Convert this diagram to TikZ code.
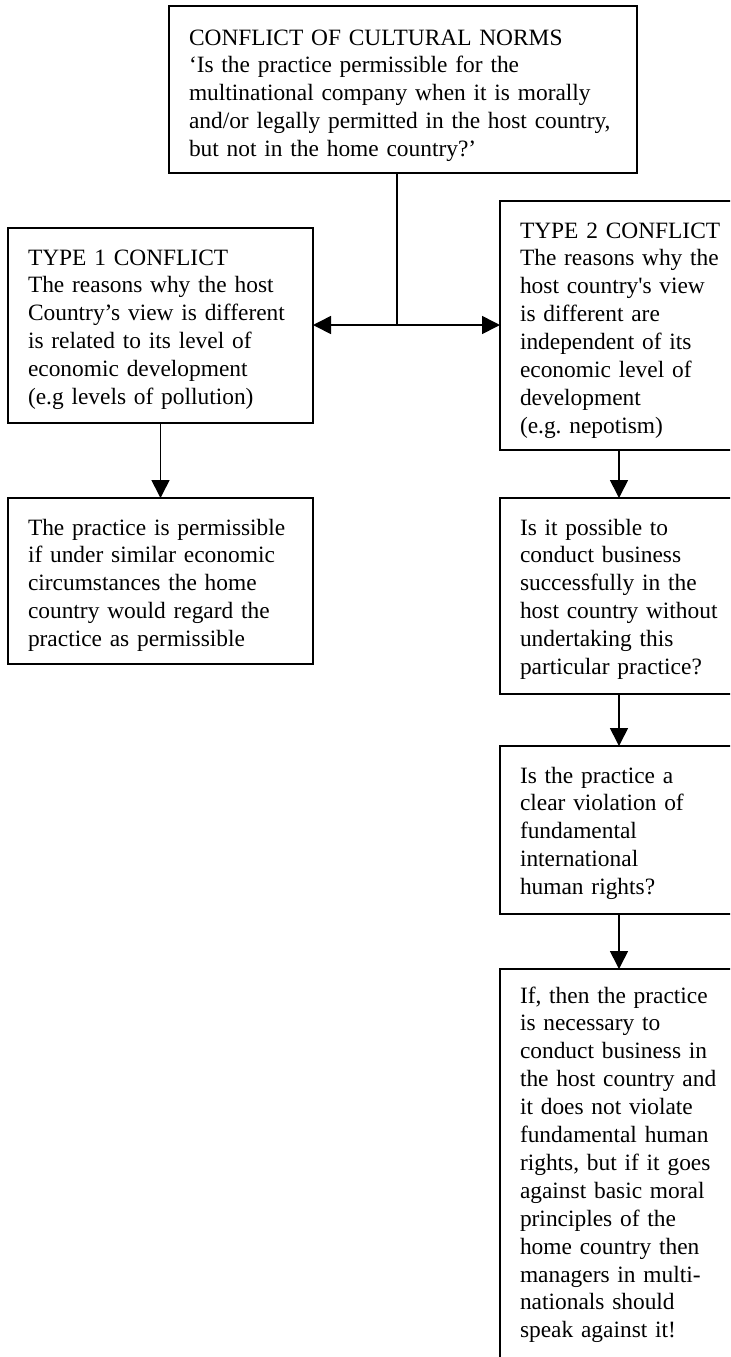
\documentclass[tikz,border=0pt]{standalone}
\usepackage{fontspec}
\setmainfont{Liberation Serif}
\usetikzlibrary{arrows.meta}
\tikzset{
  textbox/.style={draw, line width=1pt, anchor=north west, outer sep=0pt,
    align=left, inner xsep=10pt, inner ysep=0pt, text height=18.5pt,
    font=\fontsize{11.7pt}{13.95pt}\selectfont},
  arr/.style={line width=0.8pt, -{Triangle[length=9pt,width=9pt]}}
}
\begin{document}
\frenchspacing
\begin{tikzpicture}[x=0.5pt, y=-0.5pt]
  \useasboundingbox (0,0) rectangle (730,1357);
  \clip (0,0) rectangle (730,1357);
  % top box
  \node[textbox, text width=214pt, text height=19.5pt, text depth=64pt] (norms) at (169,6)
    {CONFLICT OF CULTURAL NORMS\\
     ‘Is the practice permissible for the\\
     multinational company when it is morally\\
     and/or legally permitted in the host country,\\
     but not in the home country?’};
  % left column
  \node[textbox, text width=132.5pt, text depth=79pt] (typeone) at (8,228)
    {TYPE 1 CONFLICT\\
     The reasons why the host\\
     Country’s view is different\\
     is related to its level of\\
     economic development\\
     (e.g levels of pollution)};
  \node[textbox, text width=132.5pt, text depth=64.5pt] (permit) at (8,498)
    {The practice is permissible\\
     if under similar economic\\
     circumstances the home\\
     country would regard the\\
     practice as permissible};
  % right column, cut off by the page edge
  \node[textbox, text width=110pt, text depth=106pt] (typetwo) at (500,201)
    {TYPE 2 CONFLICT\\
     The reasons why the\\
     host country\textquotesingle s view\\
     is different are\\
     independent of its\\
     economic level of\\
     development\\
     (e.g. nepotism)};
  \node[textbox, text width=110pt, text depth=79.5pt] (possible) at (500,498)
    {Is it possible to\\
     conduct business\\
     successfully in the\\
     host country without\\
     undertaking this\\
     particular practice?};
  \node[textbox, text width=110pt, text depth=65.5pt] (violation) at (500,746)
    {Is the practice a\\
     clear violation of\\
     fundamental\\
     international\\
     human rights?};
  \node[textbox, text width=110pt, text height=17pt, text depth=183pt] (managers) at (500,969)
    {If, then the practice\\
     is necessary to\\
     conduct business in\\
     the host country and\\
     it does not violate\\
     fundamental human\\
     rights, but if it goes\\
     against basic moral\\
     principles of the\\
     home country then\\
     managers in multi-\\
     nationals should\\
     speak against it!};
  % connectors
  \coordinate (stem) at ([xshift=114pt]norms.south west);
  \coordinate (split) at (stem |- 0,325);
  \draw[line width=0.8pt] (stem) -- (split);
  \draw[arr] (split) -- (typeone.east |- split);
  \draw[arr] (split) -- (typetwo.west |- split);
  \draw[arr] (typeone) -- (permit);
  \foreach \a/\b in {typetwo/possible, possible/violation, violation/managers}{
    \draw[arr] ([xshift=59.5pt]\a.south west) -- ([xshift=59.5pt]\b.north west);
  }
\end{tikzpicture}
\end{document}
